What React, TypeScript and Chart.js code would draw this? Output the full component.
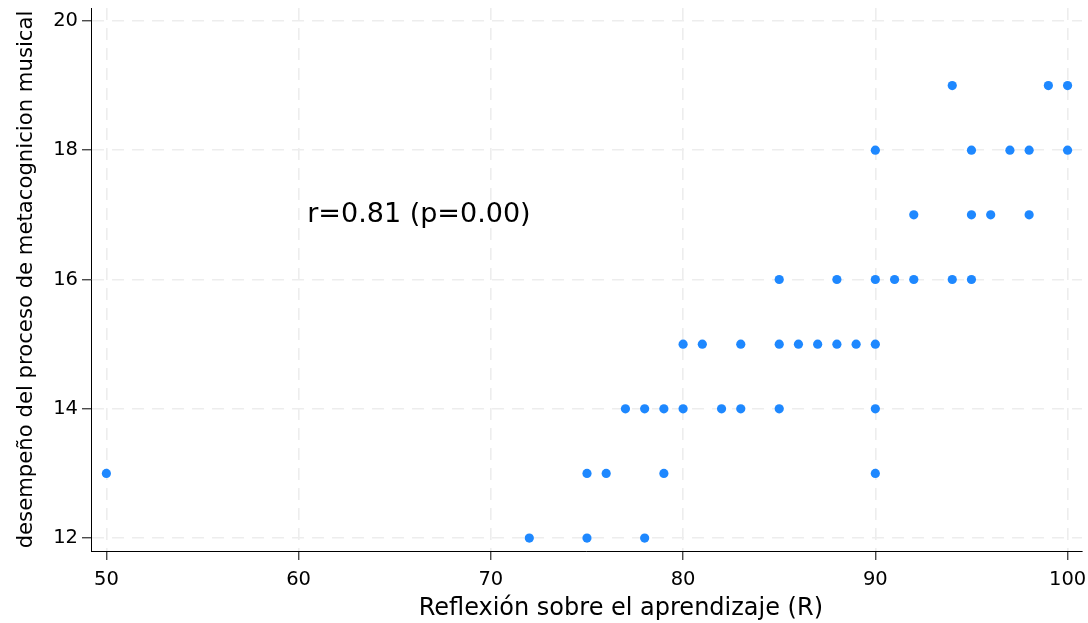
import { useEffect, useRef } from "react";
import { Chart, registerables } from "chart.js";

Chart.register(...registerables);

// Reflexión sobre el aprendizaje (R)
const reflexion = [
  94, 99, 100,
  90, 95, 97, 98, 100,
  92, 95, 96, 98,
  85, 88, 90, 91, 92, 94, 95,
  80, 81, 83, 85, 86, 87, 88, 89, 90,
  77, 78, 79, 80, 82, 83, 85, 90,
  50, 75, 76, 79, 90,
  72, 75, 78,
];
// desempeño del proceso de metacognicion musical
const desempeno = [
  19, 19, 19,
  18, 18, 18, 18, 18,
  17, 17, 17, 17,
  16, 16, 16, 16, 16, 16, 16,
  15, 15, 15, 15, 15, 15, 15, 15, 15,
  14, 14, 14, 14, 14, 14, 14, 14,
  13, 13, 13, 13, 13,
  12, 12, 12,
];

const xTicks = [50, 60, 70, 80, 90, 100];
const yTicks = [12, 14, 16, 18, 20];

const xTitle = "Reflexión sobre el aprendizaje (R)";
const yTitle = "desempeño del proceso de metacognicion musical";
const annotationText = "r=0.81 (p=0.00)";
const annotationX = 60.45;
const annotationY = 17;

const FONT = "DejaVu Sans";

const annotationPlugin = {
  id: "corrAnnotation",
  afterDatasetsDraw(chart: any) {
    const { ctx, scales } = chart;
    const x = scales.x;
    const y = scales.y;
    ctx.save();
    ctx.font = `27px "${FONT}"`;
    ctx.fillStyle = "#000000";
    ctx.textAlign = "left";
    ctx.textBaseline = "middle";
    ctx.fillText(annotationText, x.getPixelForValue(annotationX), y.getPixelForValue(annotationY));
    ctx.restore();
  },
};

export default function App() {
  const canvasRef = useRef<HTMLCanvasElement | null>(null);

  useEffect(() => {
    if (!canvasRef.current) return;
    const points = reflexion.map((v, i) => ({ x: v, y: desempeno[i] }));
    const gridCommon = {
      color: "#ededed",
      lineWidth: 1.6,
      tickColor: "#000000",
      tickWidth: 1,
      tickLength: 9,
      tickBorderDash: [],
    };
    const chart = new Chart(canvasRef.current, {
      type: "scatter",
      data: {
        datasets: [
          {
            data: points,
            backgroundColor: "#1e88ff",
            borderWidth: 0,
            pointRadius: 4.6,
            pointHoverRadius: 4.6,
          },
        ],
      },
      options: {
        animation: false,
        responsive: false,
        events: [],
        layout: { padding: { top: 8, right: 6, left: 0, bottom: 0 } },
        plugins: {
          legend: { display: false },
          tooltip: { enabled: false },
        },
        scales: {
          x: {
            type: "linear",
            min: 49.2,
            max: 100.75,
            afterBuildTicks: (s: any) => {
              s.ticks = xTicks.map((v) => ({ value: v }));
            },
            afterFit: (s: any) => {
              s.height = 72;
              s.paddingLeft = 0;
              s.paddingRight = 0;
            },
            ticks: {
              color: "#000000",
              font: { family: FONT, size: 19.5 },
              padding: 8,
              maxRotation: 0,
              autoSkip: false,
            },
            grid: gridCommon,
            border: { display: true, color: "#000000", width: 1, dash: [12, 8] },
            title: {
              display: true,
              text: "         " + xTitle,
              color: "#000000",
              font: { family: FONT, size: 24 },
              padding: { top: 0, bottom: 0 },
            },
          },
          y: {
            type: "linear",
            min: 11.8,
            max: 20.2,
            afterBuildTicks: (s: any) => {
              s.ticks = yTicks.map((v) => ({ value: v }));
            },
            afterFit: (s: any) => {
              s.width = 91;
              s.paddingTop = 0;
              s.paddingBottom = 0;
            },
            ticks: {
              color: "#000000",
              font: { family: FONT, size: 19.5 },
              padding: 4,
              autoSkip: false,
            },
            grid: gridCommon,
            border: { display: true, color: "#000000", width: 1, dash: [12, 8] },
            title: {
              display: true,
              text: yTitle,
              color: "#000000",
              font: { family: FONT, size: 21.2 },
              padding: { top: 14, bottom: 0 },
            },
          },
        },
      },
      plugins: [annotationPlugin],
    } as any);
    return () => chart.destroy();
  }, []);

  return (
    <div style={{ position: "absolute", left: 0, top: 0, width: 1088, height: 623, background: "#ffffff" }}>
      <canvas ref={canvasRef} width={1088} height={623} style={{ display: "block" }} />
    </div>
  );
}
